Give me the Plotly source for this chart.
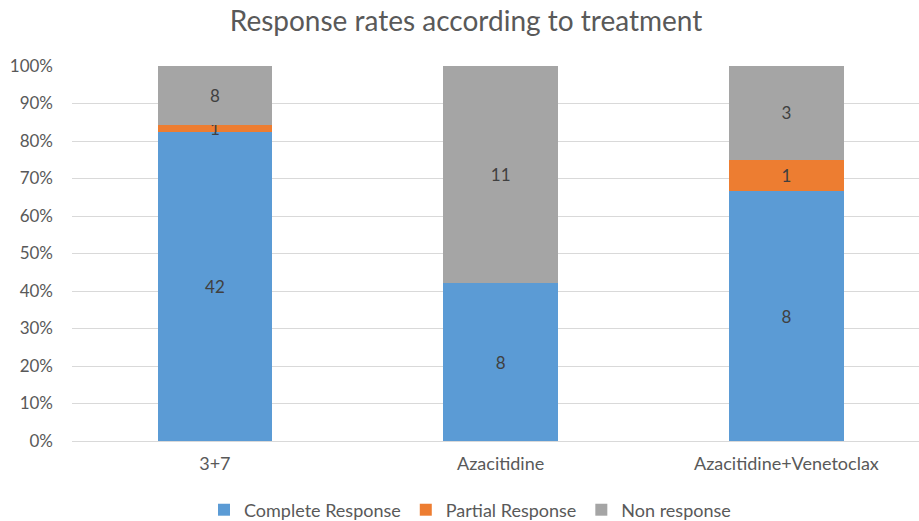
import plotly.graph_objects as go

# Response counts per treatment arm
treatments = ["3+7", "Azacitidine", "Azacitidine+Venetoclax"]
complete_response = [42, 8, 8]
partial_response = [1, 0, 1]
non_response = [8, 11, 3]

series = [
    ("Complete Response", complete_response, "#5B9BD5"),
    ("Partial Response", partial_response, "#ED7D31"),
    ("Non response", non_response, "#A5A5A5"),
]

FONT = "Lato, 'Open Sans', sans-serif"
TEXT_COLOR = "#595959"

fig = go.Figure()
for name, values, color in series:
    fig.add_trace(go.Bar(
        name=name,
        x=treatments,
        y=values,
        marker=dict(color=color, line=dict(width=0)),
        text=[str(v) if v else "" for v in values],
        textposition="inside",
        insidetextanchor="middle",
        textangle=0,
        constraintext="none",
        textfont=dict(family=FONT, size=17, color="#404040"),
        width=0.4,
        hoverinfo="name+y",
    ))

W, H = 919, 521
left, right, top, bottom = 72, 0, 66, 80
band = 285.75  # pixels per category
span = (W - left - right) / band

fig.update_layout(
    barmode="stack",
    barnorm="percent",
    width=W,
    height=H,
    margin=dict(l=left, r=right, t=top, b=bottom, autoexpand=False),
    paper_bgcolor="white",
    plot_bgcolor="white",
    font=dict(family=FONT, color=TEXT_COLOR),
    title=dict(
        text="Response rates according to treatment",
        x=466 / W,
        xanchor="center",
        xref="container",
        y=1 - 21 / H,
        yanchor="middle",
        yref="container",
        font=dict(family=FONT, size=28, color=TEXT_COLOR),
    ),
    xaxis=dict(
        type="category",
        range=[-0.5, -0.5 + span],
        showgrid=False,
        showline=False,
        ticks="",
        tickfont=dict(family=FONT, size=18, color=TEXT_COLOR),
        ticklabelstandoff=10,
        automargin=False,
    ),
    yaxis=dict(
        range=[0, 100],
        dtick=10,
        ticksuffix="%",
        showgrid=True,
        gridcolor="#D9D9D9",
        gridwidth=1,
        zeroline=True,
        zerolinecolor="#D9D9D9",
        zerolinewidth=1,
        showline=False,
        ticks="",
        tickfont=dict(family=FONT, size=17, color=TEXT_COLOR),
        ticklabelstandoff=18,
        automargin=False,
    ),
    legend=dict(
        orientation="h",
        x=470 / W,
        xanchor="center",
        xref="container",
        y=1 - 510 / H,
        yanchor="middle",
        yref="container",
        font=dict(family=FONT, size=18, color=TEXT_COLOR),
        traceorder="normal",
        itemwidth=30,
    ),
    showlegend=True,
)

fig.write_html("out.html")
